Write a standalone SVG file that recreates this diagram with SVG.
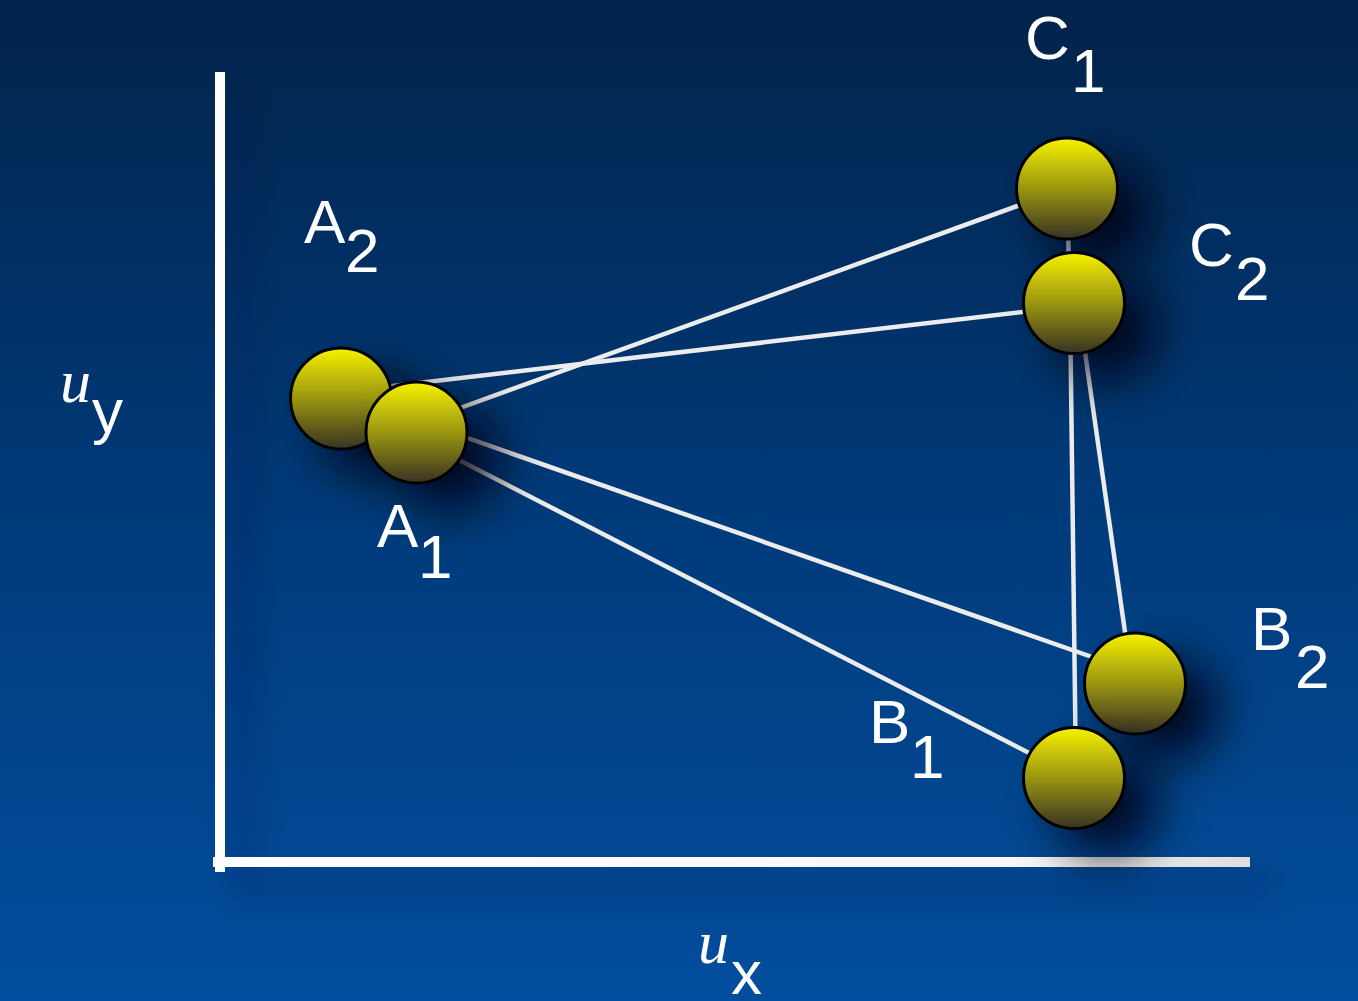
<svg xmlns="http://www.w3.org/2000/svg" width="1358" height="1001" viewBox="0 0 1358 1001">
<defs>
  <linearGradient id="bg" x1="0" y1="0" x2="0" y2="1">
    <stop offset="0" stop-color="#02234b"/>
    <stop offset="0.5" stop-color="#003a79"/>
    <stop offset="1" stop-color="#024e9e"/>
  </linearGradient>
  <linearGradient id="ball" x1="0" y1="0" x2="0" y2="1">
    <stop offset="0" stop-color="#f7f200"/>
    <stop offset="0.5" stop-color="#9a9510"/>
    <stop offset="1" stop-color="#373224"/>
  </linearGradient>
  <linearGradient id="haxis" x1="0" y1="0" x2="1" y2="0">
    <stop offset="0" stop-color="#ffffff"/>
    <stop offset="0.8" stop-color="#f6f6f6"/>
    <stop offset="1" stop-color="#dedede"/>
  </linearGradient>
  <filter id="shadow" x="-100%" y="-100%" width="300%" height="300%">
    <feGaussianBlur in="SourceAlpha" stdDeviation="24"/>
    <feOffset dx="32" dy="26" result="b"/>
    <feFlood flood-color="#000612" flood-opacity="0.85"/>
    <feComposite in2="b" operator="in"/>
    <feMerge><feMergeNode/><feMergeNode in="SourceGraphic"/></feMerge>
  </filter>
  <filter id="axshadow" x="-20%" y="-20%" width="140%" height="140%">
    <feGaussianBlur in="SourceAlpha" stdDeviation="16"/>
    <feOffset dx="24" dy="24" result="b"/>
    <feFlood flood-color="#001530" flood-opacity="0.4"/>
    <feComposite in2="b" operator="in"/>
    <feMerge><feMergeNode/><feMergeNode in="SourceGraphic"/></feMerge>
  </filter>
</defs>
<style>
  .edge { stroke: #ececec; stroke-width: 4.5; fill: none; }
  .node circle { fill: url(#ball); stroke: #000; stroke-width: 3; }
  .lbl { font-family: "Liberation Sans", Arial, sans-serif; font-size: 62px; fill: #ffffff; }
  .u { font-family: "Liberation Serif", "Times New Roman", serif; font-style: italic; font-size: 62px; fill: #ffffff; }
</style>
<rect x="0" y="0" width="1358" height="1001" fill="url(#bg)"/>

<g id="axes" filter="url(#axshadow)">
  <rect x="215" y="72" width="10" height="800" fill="#ffffff"/>
  <rect x="213" y="857" width="1037" height="10" fill="url(#haxis)"/>
</g>

<g id="connectors">
  <line class="edge" x1="416" y1="424" x2="1067" y2="188"/>
  <line class="edge" x1="341" y1="392" x2="1074" y2="306"/>
  <line class="edge" x1="416" y1="420" x2="1135" y2="672"/>
  <line class="edge" x1="416" y1="438" x2="1074" y2="776"/>
  <line class="edge" x1="1068" y1="188" x2="1069" y2="303"/>
  <line class="edge" x1="1070" y1="303" x2="1076" y2="778"/>
  <line class="edge" x1="1078" y1="303" x2="1129" y2="660"/>
</g>

<g id="nodeA2" class="node" filter="url(#shadow)"><circle cx="341" cy="398.5" r="50.5"/></g>
<g id="nodeA1" class="node" filter="url(#shadow)"><circle cx="416.5" cy="432.5" r="50.5"/></g>
<g id="nodeC1" class="node" filter="url(#shadow)"><circle cx="1067" cy="188.5" r="50.5"/></g>
<g id="nodeC2" class="node" filter="url(#shadow)"><circle cx="1074" cy="303" r="50.5"/></g>
<g id="nodeB2" class="node" filter="url(#shadow)"><circle cx="1135" cy="683.5" r="50.5"/></g>
<g id="nodeB1" class="node" filter="url(#shadow)"><circle cx="1074" cy="778" r="50.5"/></g>

<g id="labels">
  <text class="lbl" x="304" y="243">A<tspan x="345" y="272">2</tspan></text>
  <text class="lbl" x="377" y="547">A<tspan x="418" y="578">1</tspan></text>
  <text class="lbl" x="1025" y="59">C<tspan x="1071" y="92">1</tspan></text>
  <text class="lbl" x="1189" y="266">C<tspan x="1235" y="300">2</tspan></text>
  <text class="lbl" x="1251" y="650">B<tspan x="1295" y="688">2</tspan></text>
  <text class="lbl" x="869" y="743">B<tspan x="910" y="778">1</tspan></text>
  <text x="60" y="402"><tspan class="u">u</tspan><tspan class="lbl" x="92" y="432">y</tspan></text>
  <text x="698" y="963"><tspan class="u">u</tspan><tspan class="lbl" x="731" y="994">x</tspan></text>
</g>
</svg>
